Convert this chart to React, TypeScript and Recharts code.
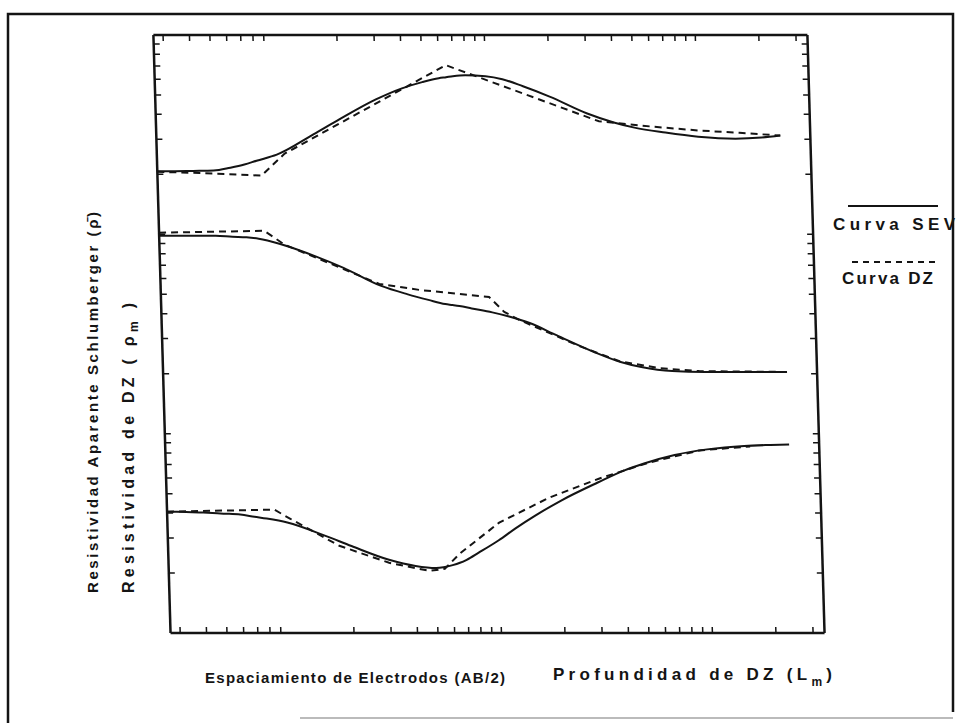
import { LineChart, Line, XAxis, YAxis } from 'recharts';

// electrode spacing AB/2 (log axis) shared by the three SEV curves
const sevX = [0.27, 0.3, 0.4, 0.5, 0.6, 0.7, 0.8, 1, 1.5, 2, 3, 4, 5, 6, 6.5, 7, 8, 10, 12, 15, 20, 30, 40, 50, 70, 100, 150, 200, 245];
const sevTop = [207, 207, 208, 209, 216, 224, 234, 251, 317, 377, 475, 540, 580, 607, 614, 621, 628, 621, 600, 553, 491, 404, 364, 343, 324, 309, 302, 306, 313];
const sevMid = [98.4, 98.4, 98.4, 98.4, 97.3, 96.7, 95, 89.7, 77.1, 67.9, 55.1, 50, 46.9, 44.7, 44.2, 43.7, 42.5, 40.6, 38.7, 35.9, 31.2, 25.7, 22.9, 21.6, 20.6, 20.4, 20.4, 20.4, 20.4];
const sevBot = [4.06, 4.06, 4.02, 3.97, 3.93, 3.83, 3.75, 3.58, 3.08, 2.73, 2.33, 2.17, 2.12, 2.19, 2.25, 2.33, 2.53, 2.92, 3.34, 3.88, 4.62, 5.69, 6.53, 7.09, 7.82, 8.34, 8.68, 8.78, 8.83];

// DZ (Dar Zarrouk) curves, piecewise
const dzTopX = [0.27, 0.43, 0.84, 1.09, 6.5, 34, 59, 100, 157, 245];
const dzTop = [206, 203, 197, 254, 706, 369, 348, 332, 323, 313];
const dzMidX = [0.27, 0.85, 1.06, 2.94, 4.55, 9.7, 11.4, 13.4, 25.6, 39.5, 61, 94, 240];
const dzMid = [101.9, 104.2, 88.7, 56.4, 52.6, 48.5, 40.8, 37.2, 27.5, 23.1, 21.3, 20.6, 20.4];
const dzBotX = [0.27, 0.87, 1.03, 1.75, 3.0, 4.65, 5.5, 6.5, 10.1, 17.6, 30.6, 53, 92, 160];
const dzBot = [4.06, 4.16, 3.75, 2.74, 2.25, 2.05, 2.1, 2.5, 3.58, 4.78, 5.96, 7.17, 8.24, 8.63];

const xTicks = [0.3, 0.4, 0.5, 0.6, 0.7, 0.8, 0.9, 2, 3, 4, 5, 6, 7, 8, 9, 10, 20, 30, 40, 50, 60, 70, 80, 90, 100, 200, 300];
const yTicks = [2, 3, 4, 5, 6, 7, 8, 9, 10, 20, 30, 40, 50, 60, 70, 80, 90, 100, 200, 300, 400, 500, 600, 700, 800, 900];

const toPoints = (xs: number[], ys: number[]) => xs.map((x, i) => ({ x, y: ys[i] }));

const INK = '#141414';
const FONT = '"Liberation Sans", Arial, sans-serif';
const noLabel = () => '';

const axisProps = {
  axisLine: { stroke: INK, strokeWidth: 2.5 },
  tickLine: { stroke: INK, strokeWidth: 1.5 },
  tickSize: 6,
  mirror: true,
  tickFormatter: noLabel,
  allowDataOverflow: true,
};

export default function App() {
  const solid = [toPoints(sevX, sevTop), toPoints(sevX, sevMid), toPoints(sevX, sevBot)];
  const dashed = [toPoints(dzTopX, dzTop), toPoints(dzMidX, dzMid), toPoints(dzBotX, dzBot)];

  return (
    <div style={{ position: 'absolute', left: 0, top: 0, width: 974, height: 723, background: '#fff', overflow: 'hidden', fontFamily: FONT }}>
      {/* the scanned figure leans a little: shear the plot to match */}
      <div style={{ position: 'absolute', left: 0, top: 0, width: 974, height: 723, transform: 'skewX(1.64deg)', transformOrigin: '0 335px' }}>
        <LineChart width={974} height={723} margin={{ top: 35, right: 158, bottom: 90, left: 162 }}>
          <XAxis xAxisId="bottom" dataKey="x" type="number" scale="log" domain={[0.27, 340]} ticks={xTicks} height={1} {...axisProps} />
          <XAxis xAxisId="top" orientation="top" dataKey="x" type="number" scale="log" domain={[0.27, 340]} ticks={xTicks} height={1} {...axisProps} />
          <YAxis yAxisId="left" type="number" scale="log" domain={[1, 1000]} ticks={yTicks} width={1} {...axisProps} />
          <YAxis yAxisId="right" orientation="right" type="number" scale="log" domain={[1, 1000]} ticks={yTicks} width={1} {...axisProps} />
          {solid.map((d, i) => (
            <Line key={`sev-${i}`} xAxisId="bottom" yAxisId="left" data={d} dataKey="y" type="monotone" stroke={INK} strokeWidth={2} dot={false} isAnimationActive={false} />
          ))}
          {dashed.map((d, i) => (
            <Line key={`dz-${i}`} xAxisId="bottom" yAxisId="left" data={d} dataKey="y" type="linear" stroke={INK} strokeWidth={2} strokeDasharray="7 5" dot={false} isAnimationActive={false} />
          ))}
        </LineChart>
      </div>

      {/* labels, legend and page frame */}
      <svg width={974} height={723} style={{ position: 'absolute', left: 0, top: 0, pointerEvents: 'none' }}>
        <g fontFamily={FONT} fontWeight="bold" fontSize={15} fill={INK}>
          <text transform="translate(98,593) rotate(-90)" textLength={381} lengthAdjust="spacing">
            Resistividad Aparente Schlumberger (ρ̄)
          </text>
          <text transform="translate(134,593) rotate(-90)" fontSize={16} textLength={290} lengthAdjust="spacing">
            Resistividad de DZ ( ρ<tspan fontSize={12} dy={4}>m</tspan><tspan dy={-4}> )</tspan>
          </text>
          <text x={205} y={683} textLength={300} lengthAdjust="spacing">
            Espaciamiento de Electrodos (AB/2)
          </text>
          <text x={553} y={680} fontSize={17} textLength={279} lengthAdjust="spacing">
            Profundidad de DZ (L<tspan fontSize={12} dy={6}>m</tspan><tspan dy={-6}>)</tspan>
          </text>
          <text x={833} y={230} fontSize={17} textLength={122} lengthAdjust="spacing">Curva SEV</text>
          <text x={842} y={284} fontSize={17} textLength={91} lengthAdjust="spacing">Curva DZ</text>
        </g>
        <line x1={848} y1={206} x2={938} y2={206} stroke={INK} strokeWidth={2} />
        <line x1={852} y1={262} x2={937} y2={262} stroke={INK} strokeWidth={2} strokeDasharray="6 5" />
        <polyline points="8,723 8,14 953,14 953,712" fill="none" stroke={INK} strokeWidth={2.5} />
        <line x1={300} y1={718} x2={953} y2={718} stroke="#bbb" strokeWidth={2} />
      </svg>
    </div>
  );
}
